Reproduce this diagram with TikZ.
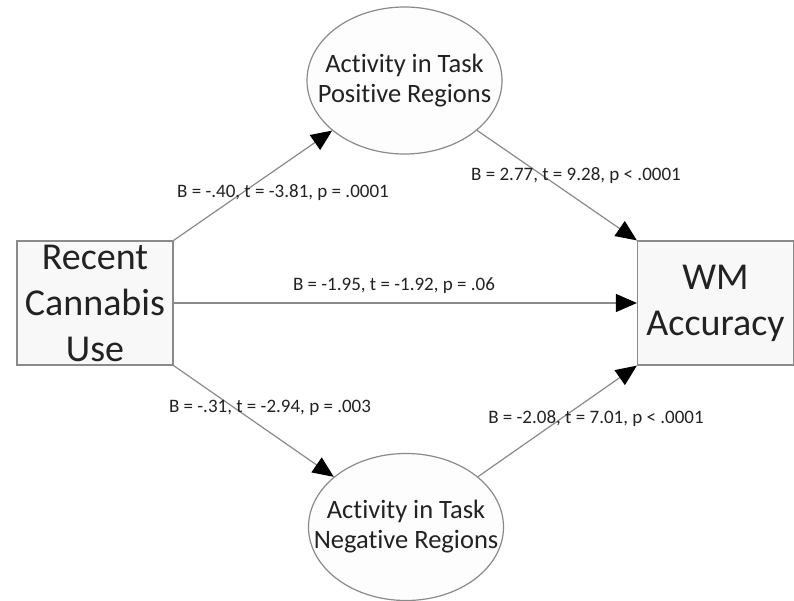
\documentclass[tikz,border=0pt]{standalone}
\usepackage{fontspec}
\setmainfont{Carlito}[Ligatures={NoCommon}]
\usetikzlibrary{arrows.meta,shapes.geometric}
\definecolor{edgegray}{HTML}{8A8A8A}
\definecolor{txt}{HTML}{222222}
\definecolor{boxfill}{HTML}{F8F8F8}
\definecolor{ellfill}{HTML}{FDFDFD}
\begin{document}
\begin{tikzpicture}[x=1pt,y=-1pt,
  boxnode/.style={draw=edgegray, line width=1.2pt, rectangle, minimum width=156pt, minimum height=124pt,
     inner sep=0pt, align=center, text=txt, font=\fontsize{38}{46}\selectfont, fill=boxfill},
  ellnode/.style={draw=edgegray, line width=1.2pt, ellipse, minimum width=195pt, minimum height=147pt,
     inner sep=0pt, fill=ellfill},
  elltext/.style={align=center, text=txt, font=\fontsize{26.5}{30}\selectfont, inner sep=0pt},
  link/.style={draw=edgegray, line width=1.2pt, -{Triangle[length=21pt,width=18pt,color=black]}},
  lbl/.style={text=txt, font=\fontsize{19}{22}\selectfont, inner sep=0pt}
]
\useasboundingbox (0,0) rectangle (794,600);
\fill[white] (0,0) rectangle (794,600);
\node[boxnode] (rcu) at (95,303) {Recent\\Cannabis\\Use};
\node[boxnode] (wm) at (715.5,303) {WM\\Accuracy};
\node[ellnode, label={[elltext]center:Activity in Task\\Positive Regions}] (pos) at (404.5,80.5) {};
\node[ellnode, label={[elltext]center:Activity in Task\\Negative Regions}] (neg) at (406,527) {};

\draw[link] (rcu.north east) -- (pos);
\draw[link] (pos) -- (wm.north west);
\draw[link] (rcu.east) -- (wm.west);
\draw[link] (rcu.south east) -- (neg);
\draw[link] (neg) -- (wm.south west);

\node[lbl] (l1) at (283,193) {B = -.40, t = -3.81, p = .0001};
\node[lbl] (l2) at (576,176) {B = 2.77, t = 9.28, p < .0001};
\node[lbl] (l3) at (394,286) {B = -1.95, t = -1.92, p = .06};
\node[lbl] (l4) at (270,408) {B = -.31, t = -2.94, p = .003};
\node[lbl] (l5) at (596,419) {B = -2.08, t = 7.01, p < .0001};
\end{tikzpicture}
\end{document}
